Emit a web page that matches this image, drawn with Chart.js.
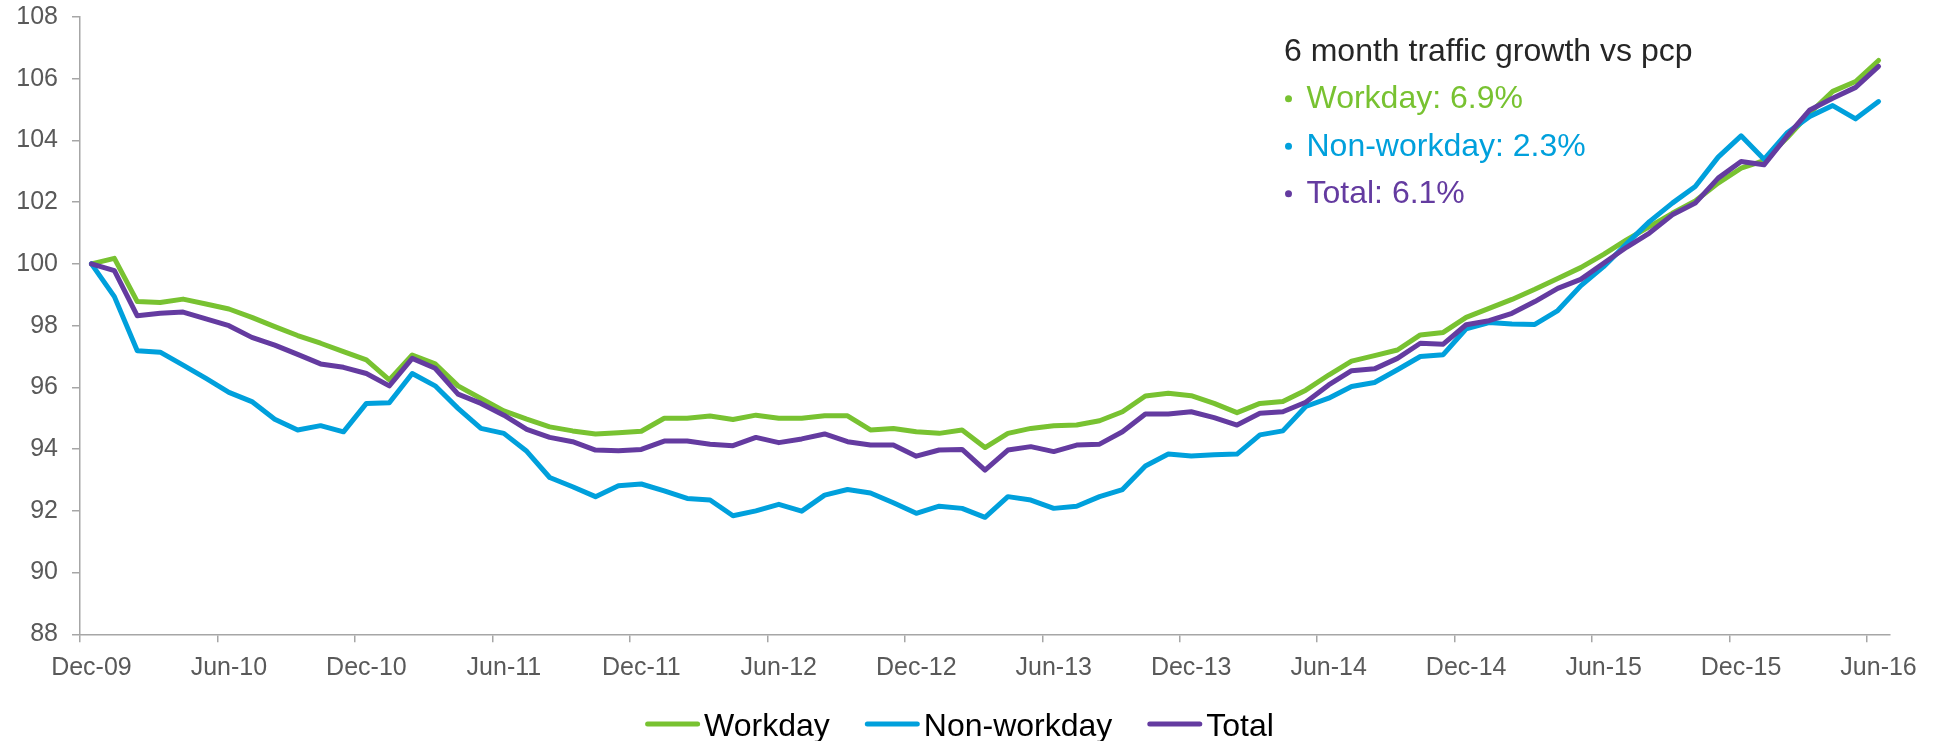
<!DOCTYPE html>
<html>
<head>
<meta charset="utf-8">
<title>Traffic index</title>
<script src="https://cdn.jsdelivr.net/npm/chart.js@4.4.0/dist/chart.umd.min.js"></script>
<style>
  html, body { margin: 0; padding: 0; background: #ffffff; }
  #wrap { position: relative; width: 1935px; height: 741px; }
</style>
</head>
<body>
<div id="wrap"><canvas id="trafficChart"></canvas></div>
<script>
// ====================== DATA ======================
const months = [
    'Dec-09',
    'Jan-10', 'Feb-10', 'Mar-10', 'Apr-10', 'May-10', 'Jun-10', 'Jul-10', 'Aug-10', 'Sep-10', 'Oct-10', 'Nov-10', 'Dec-10',
    'Jan-11', 'Feb-11', 'Mar-11', 'Apr-11', 'May-11', 'Jun-11', 'Jul-11', 'Aug-11', 'Sep-11', 'Oct-11', 'Nov-11', 'Dec-11',
    'Jan-12', 'Feb-12', 'Mar-12', 'Apr-12', 'May-12', 'Jun-12', 'Jul-12', 'Aug-12', 'Sep-12', 'Oct-12', 'Nov-12', 'Dec-12',
    'Jan-13', 'Feb-13', 'Mar-13', 'Apr-13', 'May-13', 'Jun-13', 'Jul-13', 'Aug-13', 'Sep-13', 'Oct-13', 'Nov-13', 'Dec-13',
    'Jan-14', 'Feb-14', 'Mar-14', 'Apr-14', 'May-14', 'Jun-14', 'Jul-14', 'Aug-14', 'Sep-14', 'Oct-14', 'Nov-14', 'Dec-14',
    'Jan-15', 'Feb-15', 'Mar-15', 'Apr-15', 'May-15', 'Jun-15', 'Jul-15', 'Aug-15', 'Sep-15', 'Oct-15', 'Nov-15', 'Dec-15',
    'Jan-16', 'Feb-16', 'Mar-16', 'Apr-16', 'May-16', 'Jun-16'
];

// index, Dec-09 = 100
const workday = [
    100.00,
    100.18, 98.78, 98.75, 98.86, 98.70, 98.54, 98.27, 97.97, 97.68, 97.43, 97.16, 96.89,
    96.24, 97.05, 96.76, 96.05, 95.64, 95.24, 94.97, 94.72, 94.59, 94.49, 94.53, 94.58,
    95.00, 95.00, 95.07, 94.96, 95.10, 95.00, 95.00, 95.08, 95.08, 94.62, 94.67, 94.56,
    94.51, 94.62, 94.05, 94.51, 94.67, 94.76, 94.78, 94.92, 95.21, 95.72, 95.81, 95.73,
    95.48, 95.18, 95.48, 95.54, 95.91, 96.40, 96.85, 97.03, 97.21, 97.70, 97.78, 98.27,
    98.56, 98.85, 99.18, 99.53, 99.88, 100.31, 100.78, 101.21, 101.64, 102.04, 102.62, 103.10,
    103.35, 104.08, 104.89, 105.59, 105.91, 106.59
];

const nonWorkday = [
    100.00,
    98.94, 97.19, 97.14, 96.72, 96.29, 95.84, 95.54, 94.97, 94.62, 94.76, 94.56, 95.48,
    95.50, 96.45, 96.05, 95.32, 94.67, 94.51, 93.93, 93.08, 92.78, 92.46, 92.81, 92.87,
    92.65, 92.40, 92.35, 91.84, 92.00, 92.21, 91.99, 92.51, 92.69, 92.58, 92.26, 91.92,
    92.15, 92.08, 91.79, 92.46, 92.35, 92.08, 92.15, 92.46, 92.69, 93.45, 93.84, 93.78,
    93.82, 93.84, 94.46, 94.59, 95.38, 95.65, 96.03, 96.16, 96.57, 97.00, 97.06, 97.90,
    98.10, 98.05, 98.04, 98.49, 99.29, 99.91, 100.65, 101.37, 101.97, 102.51, 103.46, 104.15,
    103.39, 104.24, 104.78, 105.13, 104.70, 105.26
];

const total = [
    100.00,
    99.78, 98.32, 98.40, 98.44, 98.22, 98.00, 97.62, 97.37, 97.07, 96.76, 96.65, 96.45,
    96.05, 96.94, 96.62, 95.78, 95.48, 95.10, 94.64, 94.38, 94.24, 93.97, 93.95, 93.99,
    94.26, 94.26, 94.16, 94.11, 94.38, 94.21, 94.33, 94.49, 94.24, 94.13, 94.13, 93.77,
    93.97, 93.99, 93.32, 93.97, 94.08, 93.92, 94.13, 94.16, 94.56, 95.14, 95.14, 95.21,
    95.02, 94.78, 95.16, 95.21, 95.52, 96.08, 96.54, 96.60, 96.94, 97.43, 97.40, 98.03,
    98.16, 98.40, 98.78, 99.21, 99.50, 100.02, 100.54, 101.00, 101.59, 101.97, 102.78, 103.32,
    103.21, 104.13, 104.99, 105.37, 105.72, 106.40
];

const seriesNames = ['Workday', 'Non-workday', 'Total'];
const growthPct = [6.9, 2.3, 6.1];
const growthTitle = '6 month traffic growth vs pcp';

const yMin = 88;
const yMax = 108;
const yStep = 2;
const labelEvery = 6;

// ====================== STYLE ======================
const FONT = '"Liberation Sans", Arial, sans-serif';
const COLORS = ['#78c231', '#00a0dc', '#643ba0'];
const AXIS = '#a6a6a6';
const TICK_TEXT = '#595959';

// growth call-out in the top right corner
const growthNote = {
    id: 'growthNote',
    afterDraw(chart) {
        const ctx = chart.ctx;
        ctx.save();
        ctx.font = '32px ' + FONT;
        ctx.textBaseline = 'alphabetic';
        ctx.fillStyle = '#262626';
        ctx.fillText(growthTitle, 1284, 60.5);
        seriesNames.forEach((name, i) => {
            const y = 108.3 + i * 47.5;
            ctx.fillStyle = COLORS[i];
            ctx.beginPath();
            ctx.arc(1288.5, y - 9.5, 3.5, 0, Math.PI * 2);
            ctx.fill();
            ctx.fillText(name + ': ' + growthPct[i].toFixed(1) + '%', 1306.5, y);
        });
        ctx.restore();
    }
};

// line-sample legend under the x axis
const bottomLegend = {
    id: 'bottomLegend',
    afterDraw(chart) {
        const ctx = chart.ctx;
        const sample = 55, gap = 4, spacing = 35;
        ctx.save();
        ctx.font = '32px ' + FONT;
        const widths = seriesNames.map(n => sample + gap + ctx.measureText(n).width);
        const fullWidth = widths.reduce((a, b) => a + b, 0) + spacing * (widths.length - 1);
        let x = chart.width / 2 - 8 - fullWidth / 2;
        const lineY = 724;
        seriesNames.forEach((name, i) => {
            ctx.strokeStyle = COLORS[i];
            ctx.lineWidth = 5;
            ctx.lineCap = 'round';
            ctx.beginPath();
            ctx.moveTo(x + 2.5, lineY);
            ctx.lineTo(x + sample - 2.5, lineY);
            ctx.stroke();
            ctx.fillStyle = '#000000';
            ctx.textBaseline = 'alphabetic';
            ctx.fillText(name, x + sample + gap, 736);
            x += widths[i] + spacing;
        });
        ctx.restore();
    }
};

new Chart(document.getElementById('trafficChart'), {
    type: 'line',
    data: {
        labels: months,
        datasets: [workday, nonWorkday, total].map((data, i) => ({
            label: seriesNames[i],
            data,
            borderColor: COLORS[i],
            backgroundColor: COLORS[i],
            borderWidth: 5,
            borderJoinStyle: 'round',
            borderCapStyle: 'round',
            pointRadius: 0,
            tension: 0,
            fill: false,
            order: 2 - i   // Total drawn on top
        }))
    },
    options: {
        responsive: true,
        maintainAspectRatio: false,
        animation: false,
        layout: { padding: { top: 17, right: 45, bottom: 52.7, left: 0 } },
        plugins: {
            legend: { display: false },
            tooltip: { enabled: false }
        },
        scales: {
            x: {
                offset: true,
                grid: {
                    offset: true,
                    drawOnChartArea: false,
                    tickLength: 8,
                    lineWidth: 1.5,
                    color: ctx => ctx.index % labelEvery === 0 ? AXIS : 'transparent'
                },
                border: { color: AXIS, width: 1.5 },
                ticks: {
                    autoSkip: false,
                    maxRotation: 0,
                    padding: 11,
                    color: TICK_TEXT,
                    font: { family: FONT, size: 25 },
                    callback: (value, index) => index % labelEvery === 0 ? months[index] : ''
                },
                afterFit: scale => { scale.height = 54; }
            },
            y: {
                min: yMin,
                max: yMax,
                grid: { drawOnChartArea: false, tickLength: 8, lineWidth: 1.5, color: AXIS },
                border: { color: AXIS, width: 1.5 },
                ticks: {
                    stepSize: yStep,
                    padding: 14,
                    color: TICK_TEXT,
                    font: { family: FONT, size: 25 }
                },
                afterFit: scale => {
                    scale.width = 80;
                    // top label may overhang; the layout padding already leaves room
                    scale.paddingTop = 0;
                    scale.paddingBottom = 0;
                }
            }
        }
    },
    plugins: [growthNote, bottomLegend]
});
</script>
</body>
</html>
